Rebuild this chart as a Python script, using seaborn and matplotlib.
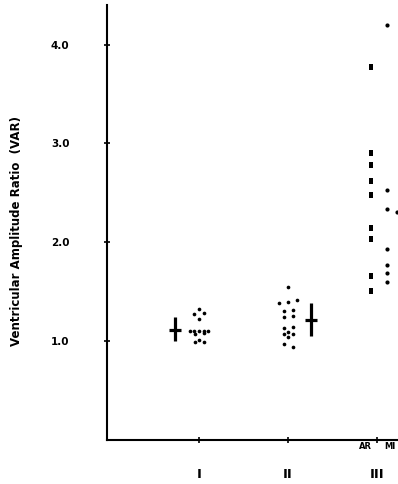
import numpy as np
import pandas as pd
import matplotlib
matplotlib.use("Agg")
import matplotlib.pyplot as plt
import seaborn as sns

# VAR values, one list per group
group_labels = ["I", "II", "III"]
var_I = [1.33, 1.27, 1.28, 1.22, 1.10, 1.10, 1.10, 1.10, 1.10, 1.07, 1.08, 1.01, 0.99, 0.99]
var_II = [1.55, 1.39, 1.40, 1.42, 1.30, 1.32, 1.24, 1.25, 1.13, 1.14, 1.09, 1.07, 1.07, 1.04, 0.97, 0.94]
var_III_AR = [3.77, 2.90, 2.78, 2.62, 2.48, 2.14, 2.03, 1.66, 1.51]
var_III_MI = [4.20, 2.53, 2.34, 2.31, 1.93, 1.77, 1.69, 1.60]

# mean and range bars for groups I and II
mean_var = [1.11, 1.21]
low_var = [1.00, 1.05]
high_var = [1.24, 1.39]

# horizontal scatter of dots inside a column (in category units)
dx_I = [0, -5, 5, 0, -9, -5, 0, 5, 9, -4, 5, 0, -4, 5]
dx_II = [0, -9, 0, 9, -4, 5, -4, 5, -4, 5, 0, -4, 5, 0, -4, 5]
dx_MI = [0, 0, 0, 10, 0, 0, 0, 0]

px = 1 / 89.0
df_dots = pd.DataFrame({
    "x": [1 + d * px for d in dx_I] + [2 + d * px for d in dx_II],
    "var": var_I + var_II,
})
df_ar = pd.DataFrame({"x": [3 - 6 * px] * len(var_III_AR), "var": var_III_AR})
df_mi = pd.DataFrame({"x": [3 + 10 * px + d * px for d in dx_MI], "var": var_III_MI})

sns.set_theme(style="white")
plt.rcParams["font.family"] = ["DejaVu Sans"]
plt.rcParams["text.color"] = "black"
plt.rcParams["xtick.color"] = "black"
plt.rcParams["ytick.color"] = "black"
plt.rcParams["axes.labelcolor"] = "black"

fig = plt.figure(figsize=(3.98, 4.84), dpi=100)
ax = fig.add_axes([107 / 398, 44 / 484, 1 - 107 / 398, 1 - 44 / 484 - 5 / 484])

sns.scatterplot(data=df_dots, x="x", y="var", ax=ax, color="black", s=7, linewidth=0)
sns.scatterplot(data=df_mi, x="x", y="var", ax=ax, color="black", s=9, linewidth=0)
rect = [(-0.55, -1), (0.55, -1), (0.55, 1), (-0.55, 1)]
sns.scatterplot(data=df_ar, x="x", y="var", ax=ax, color="black", s=24, marker=rect, linewidth=0)

# mean +/- range crosses, drawn left of col I and right of col II
cross_x = [1 - 24 * px, 2 + 23 * px]
ax.errorbar(cross_x, mean_var,
            yerr=[np.subtract(mean_var, low_var), np.subtract(high_var, mean_var)],
            xerr=6 * px, fmt="none", ecolor="black", elinewidth=2.3, capsize=0)

ax.set_xlim(-0.034, 3.236)
ax.set_ylim(0, 4.4)
ax.set_xticks([1, 2, 3])
ax.set_xticklabels(group_labels, fontsize=9.5, fontweight="heavy")
ax.set_yticks([1, 2, 3, 4])
ax.set_yticklabels(["1.0", "2.0", "3.0", "4.0"], fontsize=7.5, fontweight="heavy")
ax.tick_params(axis="y", direction="inout", length=4, width=1.2, pad=25, left=True)
ax.tick_params(axis="x", direction="inout", length=4, width=1.2, pad=18, bottom=True)

for side in ["top", "right"]:
    ax.spines[side].set_visible(False)
for side in ["left", "bottom"]:
    ax.spines[side].set_linewidth(1.5)
    ax.spines[side].set_color("black")

ax.set_xlabel("")
ax.set_ylabel("Ventricular Amplitude Ratio  (VAR)", fontsize=8.5, fontweight="heavy")
ax.yaxis.set_label_coords(-0.29, 0.48)

ax.text(3 - 12 * px, -0.02, "AR", fontsize=6, fontweight="heavy", ha="center", va="top")
ax.text(3 + 13 * px, -0.02, "MI", fontsize=6, fontweight="heavy", ha="center", va="top")

fig.savefig("out.png", dpi=100)
